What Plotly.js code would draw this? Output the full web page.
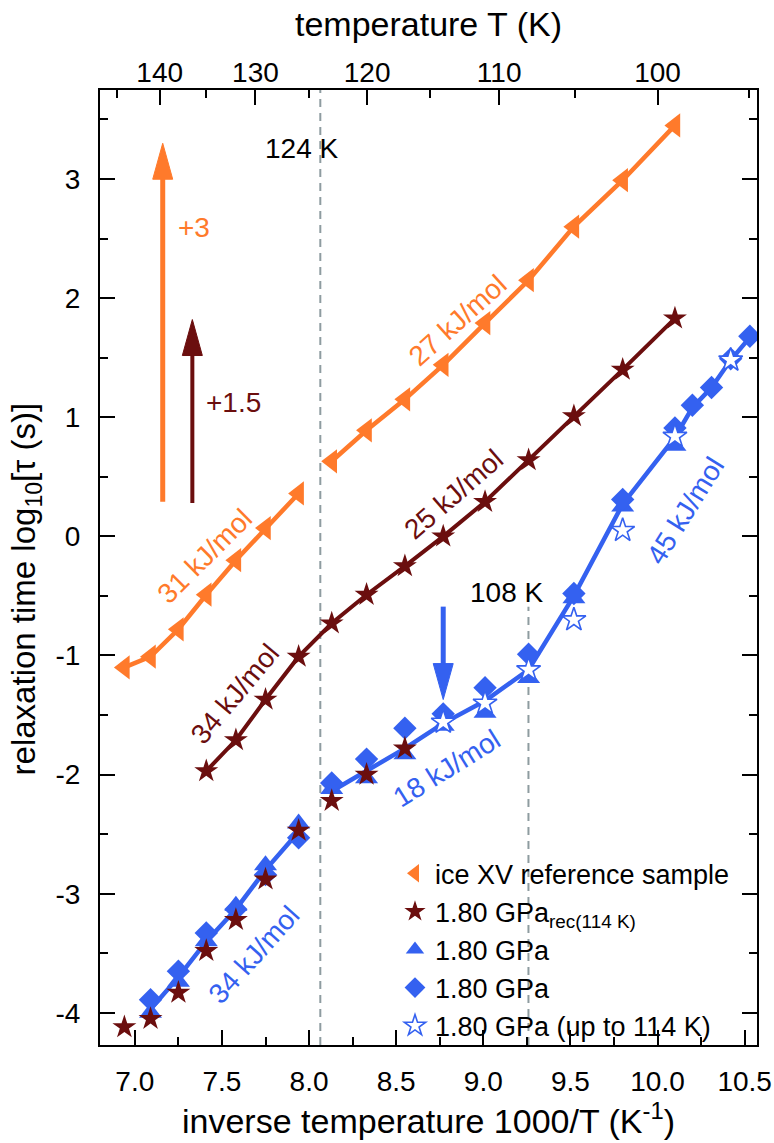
<!DOCTYPE html>
<html>
<head>
<meta charset="utf-8">
<script src="https://cdn.plot.ly/plotly-3.0.1.min.js"></script>
<style>html,body{margin:0;padding:0;background:#fff;}</style>
</head>
<body>
<div id="chart" style="width:774px;height:1143px;"></div>
<script>
// ---------------- data (inverse temperature 1000/T in K^-1, log10 tau in s) ----------------
// ice XV reference sample, shifted +3 (gap at 124 K)
const iceX = [6.94, 7.09, 7.25, 7.41, 7.58, 7.75, 7.94, null, 8.13, 8.33, 8.55, 8.77, 9.01, 9.26, 9.52, 9.80, 10.10];
const iceY = [-1.10, -1.01, -0.78, -0.49, -0.20, 0.07, 0.36, null, 0.63, 0.89, 1.15, 1.44, 1.79, 2.15, 2.60, 2.99, 3.45];

// 1.80 GPa rec(114 K), shifted +1.5
const recShiftX = [7.41, 7.58, 7.75, 7.94, 8.13, 8.33, 8.55, 8.77, 9.01, 9.26, 9.52, 9.80, 10.10];
const recShiftY = [-1.97, -1.71, -1.37, -1.01, -0.73, -0.49, -0.25, 0.00, 0.29, 0.64, 1.01, 1.40, 1.83];

// 1.80 GPa rec(114 K), unshifted
const recX = [6.94, 7.09, 7.25, 7.41, 7.58, 7.75, 7.94, 8.13, 8.33, 8.55];
const recY = [-4.12, -4.05, -3.83, -3.48, -3.22, -2.88, -2.47, -2.22, -2.00, -1.78];

// 1.80 GPa (triangles)
const triX = [7.09, 7.25, 7.41, 7.58, 7.75, 7.94, 8.13, 8.33, 8.55, 8.77, 9.01, 9.26, 9.52, 9.80, 10.10];
const triY = [-4.00, -3.74, -3.40, -3.10, -2.76, -2.41, -2.12, -2.03, -1.83, -1.59, -1.48, -1.19, -0.52, 0.25, 0.76];

// 1.80 GPa (diamonds)
const diaX = [7.09, 7.25, 7.41, 7.58, 7.75, 7.94, 8.13, 8.33, 8.55, 8.77, 9.01, 9.26, 9.52, 9.80, 10.10, 10.20, 10.31, 10.42, 10.53];
const diaY = [-3.89, -3.65, -3.33, -3.13, -2.84, -2.53, -2.07, -1.87, -1.61, -1.49, -1.27, -0.99, -0.48, 0.31, 0.91, 1.10, 1.25, 1.49, 1.68];

// 1.80 GPa (up to 114 K) (open stars)
const openX = [8.77, 9.01, 9.26, 9.52, 9.80, 10.10, 10.42];
const openY = [-1.56, -1.40, -1.12, -0.70, 0.05, 0.84, 1.48];

// blue guide line through the 1.80 GPa data (gap at 124 K)
const guideX = [7.09, 7.25, 7.41, 7.58, 7.75, 7.94, null, 8.13, 8.33, 8.55, 8.77, 9.01, 9.26, 9.52, 9.80, 10.10, 10.20, 10.31, 10.42, 10.53];
const guideY = [-3.97, -3.70, -3.40, -3.13, -2.80, -2.48, null, -2.14, -1.97, -1.78, -1.57, -1.38, -1.12, -0.50, 0.27, 0.83, 1.08, 1.25, 1.48, 1.67];

// axes
const xRange = [6.80, 10.571];
const yRange = [-4.27, 3.747];
const yTickVals = [-4, -3, -2, -1, 0, 1, 2, 3];
const yTickText = ['-4', '-3', '-2', '-1', '0', '1', '2', '3'];
const topTempTicks = [140, 130, 120, 110, 100];
const topTempMinor = [145, 135, 125, 115, 105, 95];

// marked temperatures (K) and the lower start of each dashed line
const markTemps = [124, 108];
const markLineTop = [yRange[1], -0.59];

// vertical shift arrows: x, start y, tip y
const arrowX = [7.16, 7.33, 8.77];
const arrowFrom = [0.29, 0.28, -0.59];
const arrowTo = [3.30, 1.82, -1.37];

// ---------------- style ----------------
const ORANGE = '#FF7A2B';
const BROWN = '#6B0E0E';
const BLUE = '#3461F0';
const FONT = 'Liberation Sans, Arial, Helvetica, sans-serif';

const traces = [
  { x: guideX, y: guideY, mode: 'lines', line: { color: BLUE, width: 4.5 }, showlegend: false, hoverinfo: 'skip', connectgaps: false },
  { x: iceX, y: iceY, mode: 'lines+markers', line: { color: ORANGE, width: 4.5 },
    marker: { symbol: 'triangle-left', size: 21, color: ORANGE }, showlegend: false, connectgaps: false },
  { x: recShiftX, y: recShiftY, mode: 'lines+markers', line: { color: BROWN, width: 4 },
    marker: { symbol: 'star', size: 18, color: BROWN }, showlegend: false },
  { x: triX, y: triY, mode: 'markers', name: '1.80 GPa', legendrank: 3,
    marker: { symbol: 'triangle-up', size: 20, color: BLUE } },
  { x: diaX, y: diaY, mode: 'markers', name: '1.80 GPa', legendrank: 4,
    marker: { symbol: 'diamond', size: 18, color: BLUE } },
  { x: recX, y: recY, mode: 'markers', name: '1.80 GPa<sub>rec(114 K)</sub>', legendrank: 2,
    marker: { symbol: 'star', size: 18, color: BROWN } },
  { x: openX, y: openY, mode: 'markers', name: '1.80 GPa (up to 114 K)', legendrank: 5,
    marker: { symbol: 'star', size: 18, color: '#ffffff', line: { color: BLUE, width: 1.6 } } },
  // legend-only entry for the reference sample (marker without line)
  { x: [null], y: [null], mode: 'markers', name: 'ice XV reference sample', legendrank: 1,
    marker: { symbol: 'triangle-left', size: 21, color: ORANGE } },
  // carrier for the top temperature axis
  { x: [null], y: [null], xaxis: 'x2', mode: 'markers', showlegend: false, hoverinfo: 'skip' }
];

// shapes: dashed lines and arrows
const shapes = [];
markTemps.forEach((T, i) => {
  const xv = 1000 / T;
  shapes.push({ type: 'line', xref: 'x', yref: 'y', x0: xv, x1: xv, y0: yRange[0], y1: markLineTop[i],
    line: { color: '#8E9CA0', width: 2, dash: '8px,6px' }, layer: 'below' });
});
const arrowColors = [ORANGE, BROWN, BLUE];
const arrowWidths = [5, 4, 5];
const pxX = 174.4, pxY = 119.2; // pixels per data unit (for head size)
const headLen = 36 / pxY, headHalf = 10 / pxX;
arrowX.forEach((xv, i) => {
  const dir = arrowTo[i] > arrowFrom[i] ? 1 : -1;
  const base = arrowTo[i] - dir * headLen;
  shapes.push({ type: 'line', xref: 'x', yref: 'y', x0: xv, x1: xv, y0: arrowFrom[i], y1: base + dir * 0.02,
    line: { color: arrowColors[i], width: arrowWidths[i] }, layer: 'above' });
  shapes.push({ type: 'path', xref: 'x', yref: 'y',
    path: `M ${xv - headHalf} ${base} L ${xv + headHalf} ${base} L ${xv} ${arrowTo[i]} Z`,
    fillcolor: arrowColors[i], line: { color: arrowColors[i], width: 1 }, layer: 'above' });
});

function label(text, x, y, color, angle) {
  return { text: text, x: x, y: y, xref: 'x', yref: 'y', showarrow: false, textangle: angle || 0,
    xanchor: 'center', yanchor: 'middle', font: { family: FONT, size: 28, color: color } };
}
const annotations = [
  label('124 K', 7.955, 3.26, '#000000'),
  label('108 K', 9.136, -0.47, '#000000'),
  label('+3', 7.34, 2.59, ORANGE),
  label('+1.5', 7.565, 1.12, BROWN),
  label('27 kJ/mol', 8.853, 1.81, ORANGE, -42),
  label('31 kJ/mol', 7.40, -0.17, ORANGE, -45),
  label('25 kJ/mol', 8.83, 0.35, BROWN, -41),
  label('34 kJ/mol', 7.577, -1.32, BROWN, -50),
  label('18 kJ/mol', 8.79, -1.95, BLUE, -32),
  label('34 kJ/mol', 7.685, -3.51, BLUE, -48),
  label('45 kJ/mol', 10.16, 0.22, BLUE, -58),
  // y-axis title
  { text: 'relaxation time log<sub>10</sub>[τ (s)]', xref: 'paper', yref: 'paper', x: -0.112, y: 0.4775,
    showarrow: false, textangle: -90, xanchor: 'center', yanchor: 'middle',
    font: { family: FONT, size: 33, color: '#000' } }
];

const axisCommon = {
  showgrid: false, zeroline: false, showline: true, linecolor: '#000', linewidth: 2,
  ticks: 'inside', ticklen: 15, tickwidth: 2, tickcolor: '#000',
  tickfont: { family: FONT, size: 28, color: '#000' }, automargin: false
};

const layout = {
  width: 774, height: 1143,
  margin: { l: 100, r: 17, t: 90, b: 98 },
  paper_bgcolor: '#fff', plot_bgcolor: '#fff',
  font: { family: FONT, color: '#000' },
  showlegend: true,
  legend: { x: 0.449, y: 0.205, xanchor: 'left', yanchor: 'top', bgcolor: 'rgba(0,0,0,0)',
    font: { family: FONT, size: 27, color: '#000' }, itemwidth: 30, tracegroupgap: 0, itemsizing: 'trace' },
  xaxis: Object.assign({}, axisCommon, {
    range: xRange, tick0: 7, dtick: 0.5, tickformat: '.1f', mirror: true,
    minor: { dtick: 0.25, tick0: 7, ticks: 'inside', ticklen: 8, tickwidth: 2, tickcolor: '#000' },
    ticklabelstandoff: 10,
    title: { text: 'inverse temperature 1000/T (K<sup>-1</sup>)', font: { family: FONT, size: 34 }, standoff: 2 }
  }),
  xaxis2: Object.assign({}, axisCommon, {
    overlaying: 'x', side: 'top', anchor: 'y', range: xRange,
    tickmode: 'array', tickvals: topTempTicks.map(t => 1000 / t), ticktext: topTempTicks.map(String),
    minor: { tickmode: 'array', tickvals: topTempMinor.map(t => 1000 / t), ticks: 'inside', ticklen: 8, tickwidth: 2, tickcolor: '#000' },
    ticklabelstandoff: -5,
    title: { text: 'temperature T (K)', font: { family: FONT, size: 34 }, standoff: 10 }
  }),
  yaxis: Object.assign({}, axisCommon, {
    range: yRange, tickmode: 'array', tickvals: yTickVals, ticktext: yTickText, mirror: 'ticks',
    minor: { dtick: 0.5, tick0: 0, ticks: 'inside', ticklen: 8, tickwidth: 2, tickcolor: '#000' },
    ticklabelstandoff: 12
  }),
  shapes: shapes,
  annotations: annotations
};

Plotly.newPlot('chart', traces, layout, { displayModeBar: false, staticPlot: true });
</script>
</body>
</html>
